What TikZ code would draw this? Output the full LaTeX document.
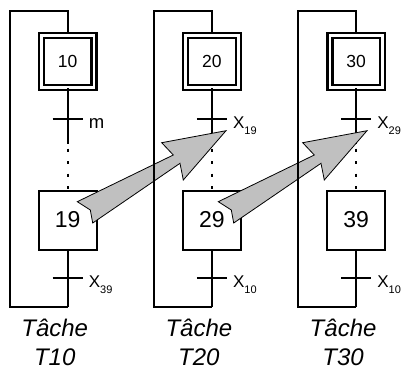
\documentclass[tikz,border=0pt]{standalone}
\usepackage{fontspec}
\setmainfont{Liberation Sans}
\definecolor{arrowgray}{RGB}{192,192,192}
\newcommand\grafsub[1]{\raisebox{-6.5pt}{\fontsize{11}{12}\selectfont #1}}
\begin{document}
\begin{tikzpicture}[x=1pt,y=-1pt,
  line/.style={line width=2pt,line join=miter},
  stepbox/.style={draw,line width=2pt,minimum width=58pt,minimum height=59pt,inner sep=0pt,font=\fontsize{23}{26}\selectfont},
  initbox/.style={draw,double=white,double distance=2.8pt,line width=2.2pt,minimum width=52.4pt,minimum height=51.8pt,inner sep=0pt,font=\fontsize{17.5}{20}\selectfont},
  trbar/.style={line width=2pt},
  trlabel/.style={anchor=base west,inner sep=0pt,font=\fontsize{17}{20}\selectfont},
  tasklabel/.style={anchor=base,inner sep=0pt,font=\fontsize{24}{28}\selectfont\itshape},
  blockarrow/.style={draw=black,line width=0.8pt,fill=arrowgray,line join=miter},
  dots/.style={line width=2.4pt,dash pattern=on 3pt off 9.6pt}
]
\useasboundingbox (0,0) rectangle (405,372);
\foreach \i/\cx/\a/\b/\ta/\tb/\tn in {1/67.7/10/19/{\fontsize{18.5}{20}\selectfont m}/{X\grafsub{39}}/T10,
                                     2/211.9/20/29/{X\grafsub{19}}/{X\grafsub{10}}/T20,
                                     3/356.1/30/39/{X\grafsub{29}}/{X\grafsub{10}}/T30}{
  \node[initbox] (s\a) at (\cx,61.2) {\a};
  \node[stepbox] (s\b) at (\cx,220) {\b};
  \coordinate (t\a) at (\cx,119);
  \coordinate (d\i) at (\cx,144);
  \coordinate (e\i) at (\cx,148.5);
  \coordinate (t\b) at (\cx,278.3);
  \coordinate (bot\i) at (\cx,307);
  \draw[line] (s\a.south) -- (d\i);
  \draw[dots] (e\i) -- (s\b.north);
  \draw[trbar] ([xshift=-15pt]t\a) -- ([xshift=15pt]t\a);
  \node[trlabel] (l\a) at ([xshift=21pt,yshift=-9pt]t\a) {\ta};
  \draw[line] (s\b.south) -- (bot\i);
  \draw[trbar] ([xshift=-15pt]t\b) -- ([xshift=15pt]t\b);
  \node[trlabel] (l\b) at ([xshift=21pt,yshift=-9pt]t\b) {\tb};
  \node[tasklabel] (ta\i) at (\cx-13,336.7) {Tâche};
  \node[tasklabel] (tb\i) at (\cx-13,365.7) {\tn};
}
% block arrows
\foreach \dx in {0,141}{
  \draw[blockarrow,shift={(\dx,0)}] (77.3,201.7) -- (173.3,155) -- (161.7,142.7) -- (226,130.7)
     -- (183.3,180) -- (180,163.3) -- (92.7,223) -- (90.3,210) -- cycle;
}
% loops
\foreach \i/\cx/\a in {1/67.7/10,2/211.9/20,3/356.1/30}{
  \draw[line] (bot\i) -- (\cx-58,307) -- (\cx-58,11) -- (\cx,11) -- (s\a.north);
}
\end{tikzpicture}
\end{document}
